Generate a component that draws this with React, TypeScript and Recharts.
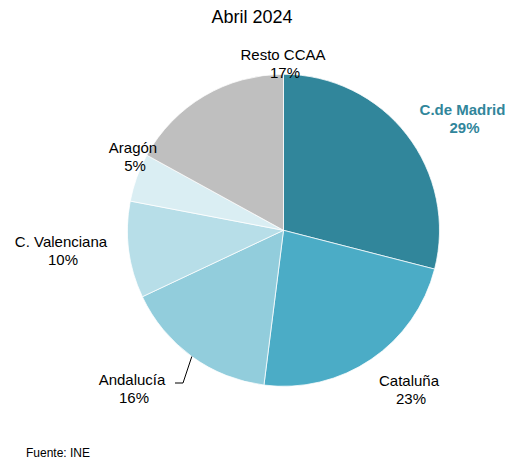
import React from "react";
import { PieChart, Pie, Cell } from "recharts";

const regions = ["C.de Madrid", "Cataluña", "Andalucía", "C. Valenciana", "Aragón", "Resto CCAA"];
const shares = [29, 23, 16, 10, 5, 17];
const colors = ["#31869B", "#4BACC6", "#92CDDC", "#B7DEE8", "#DAEEF3", "#BFBFBF"];
const title = "Abril 2024";
const source = "Fuente: INE";

const data = regions.map((name, i) => ({ name, value: shares[i] }));

// label anchor offsets (px) from pie centre: [dx, dy of first baseline]
const labelOffsets: [number, number][] = [
  [179, -115.3],
  [125.5, 155.7],
  [-151.5, 154.7],
  [-222.5, 16.7],
  [-150.5, -77.3],
  [-0.5, -170.3],
];

const RAD = Math.PI / 180;

const renderLabel = (props: any) => {
  const { cx, cy, midAngle, outerRadius, index, name, value } = props;
  const [dx, dy] = labelOffsets[index];
  const x = cx + dx;
  const y = cy + dy;
  const isMadrid = index === 0;
  const fill = isMadrid ? "#31869B" : "#000";
  const weight = isMadrid ? "bold" : "normal";
  let leader = null;
  if (index === 2) {
    const sx = cx + outerRadius * Math.cos(-midAngle * RAD);
    const sy = cy + outerRadius * Math.sin(-midAngle * RAD);
    leader = (
      <polyline
        points={`${sx},${sy} ${x + 51},${y - 2} ${x + 43},${y - 2}`}
        fill="none"
        stroke="#000"
        strokeWidth={1}
      />
    );
  }
  return (
    <g key={`lbl-${index}`}>
      {leader}
      <text
        x={x}
        y={y}
        textAnchor="middle"
        fill={fill}
        fontWeight={weight}
        fontSize={15}
        fontFamily="'Liberation Sans', Arial, sans-serif"
      >
        {name}
      </text>
      <text
        x={x + 2}
        y={y + 18}
        textAnchor="middle"
        fill={fill}
        fontWeight={weight}
        fontSize={15}
        fontFamily="'Liberation Sans', Arial, sans-serif"
      >
        {value}%
      </text>
    </g>
  );
};

export default function App() {
  const W = 509;
  const H = 453;
  return (
    <div style={{ position: "relative", width: W, height: H }}>
      <PieChart width={W} height={H} margin={{ top: 0, right: 0, bottom: 0, left: 0 }}>
        <Pie
          data={data}
          dataKey="value"
          nameKey="name"
          cx={275.5}
          cy={222.3}
          outerRadius={156}
          startAngle={90}
          endAngle={-270}
          stroke="#ffffff"
          strokeWidth={0.75}
          label={renderLabel}
          labelLine={false}
          isAnimationActive={false}
        >
          {data.map((d, i) => (
            <Cell key={d.name} fill={colors[i]} />
          ))}
        </Pie>
      </PieChart>
      <svg
        width={W}
        height={H}
        style={{ position: "absolute", left: 0, top: 0, pointerEvents: "none" }}
      >
        <text
          x={244}
          y={15}
          textAnchor="middle"
          fontSize={18}
          fontFamily="'Liberation Sans', Arial, sans-serif"
          fill="#000"
        >
          {title}
        </text>
        <text
          x={18}
          y={449}
          fontSize={12}
          fontFamily="'Liberation Sans', Arial, sans-serif"
          fill="#000"
        >
          {source}
        </text>
      </svg>
    </div>
  );
}
